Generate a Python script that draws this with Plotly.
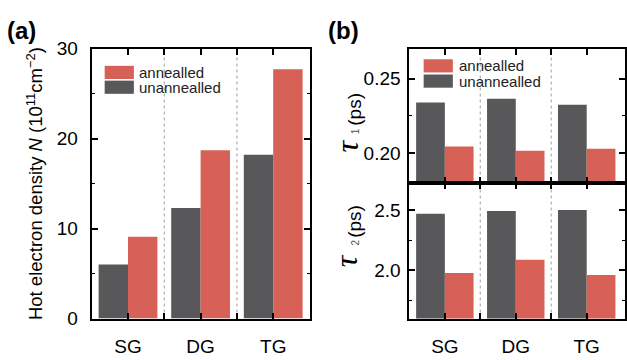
import plotly.graph_objects as go

# Sample groups and series
groups = ["SG", "DG", "TG"]
series_names = ["unannealled", "annealled"]

# Hot electron density N (10^11 cm^-2)
density_unannealed = [6.0, 12.3, 18.2]
density_annealed = [9.1, 18.7, 27.7]

# Relaxation times (ps)
tau1_unannealed = [0.234, 0.2365, 0.2325]
tau1_annealed = [0.2045, 0.2018, 0.2030]
tau2_unannealed = [2.467, 2.490, 2.498]
tau2_annealed = [1.977, 2.086, 1.961]

GREY = "#58585A"
RED = "#D76156"
FONT = "Liberation Sans, Arial, sans-serif"
SERIF = "Liberation Serif, Times New Roman, serif"
W, H = 627, 360

xpos = list(range(len(groups)))

fig = go.Figure()

def add_pair(xa, ya, unann, ann):
    fig.add_trace(go.Bar(x=xpos, y=unann, name=series_names[0], marker_color=GREY,
                         marker_line_width=0, xaxis=xa, yaxis=ya, showlegend=False))
    fig.add_trace(go.Bar(x=xpos, y=ann, name=series_names[1], marker_color=RED,
                         marker_line_width=0, xaxis=xa, yaxis=ya, showlegend=False))

add_pair("x", "y", density_unannealed, density_annealed)
add_pair("x2", "y2", tau1_unannealed, tau1_annealed)
add_pair("x3", "y3", tau2_unannealed, tau2_annealed)

# Pixel-based panel geometry converted to paper fractions
def px_x(v):
    return v / W

def px_y(v):
    return 1 - v / H

top, bottom, split = 41, 327.7, 184
a_dom = [px_x(92), px_x(310.5)]
b_dom = [px_x(410.7), 1.0]

axis_common = dict(
    showline=True, linecolor="black", linewidth=2, mirror="allticks",
    ticks="inside", tickcolor="black", tickwidth=1.5, ticklen=6,
    showgrid=False, zeroline=False,
    tickfont=dict(family=FONT, size=19, color="black"),
)

def xaxis_cfg(domain, rng, labels, anchor):
    cfg = dict(axis_common)
    cfg.update(domain=domain, range=rng, anchor=anchor,
               tickmode="array", tickvals=xpos,
               ticktext=groups if labels else ["", "", ""],
               showticklabels=labels, ticklabelstandoff=10,
               minor=dict(ticks="inside", tickmode="array", tickvals=[0.5, 1.5],
                          ticklen=6, tickwidth=1.5, tickcolor="black"))
    return cfg

def yaxis_cfg(domain, rng, dtick, minor_dtick, fmt, anchor, standoff, title=None):
    cfg = dict(axis_common)
    cfg.update(domain=domain, range=rng, anchor=anchor, dtick=dtick, tick0=0,
               tickformat=fmt, ticklabelstandoff=standoff,
               minor=dict(ticks="inside", dtick=minor_dtick, tick0=0, ticklen=3,
                          tickwidth=1.2, tickcolor="black"))
    if title:
        cfg["title"] = title
    return cfg

fig.update_layout(
    width=W, height=H,
    margin=dict(l=0, r=0, t=0, b=0),
    paper_bgcolor="white", plot_bgcolor="white",
    barmode="group", bargap=0.19, bargroupgap=0,
    font=dict(family=FONT, color="black"),
    xaxis=xaxis_cfg(a_dom, [-0.5, 2.5], True, "y"),
    yaxis=yaxis_cfg([px_y(bottom), px_y(top)], [0, 30], 10, 5, "d", "x", 8,
                    dict(text="Hot electron density <i>N</i> (10<sup>11</sup>cm<sup>−2</sup>)",
                         font=dict(family=FONT, size=18.5), standoff=9)),
    xaxis2=xaxis_cfg(b_dom, [-0.5, 2.54], False, "y2"),
    yaxis2=yaxis_cfg([px_y(split), px_y(top)], [0.18, 0.27], 0.05, 0.025, ".2f", "x2", 3),
    xaxis3=xaxis_cfg(b_dom, [-0.5, 2.54], True, "y3"),
    yaxis3=yaxis_cfg([px_y(bottom), px_y(split)], [1.6, 2.72], 0.5, 0.25, ".1f", "x3", 3),
)

# Dashed separators between sample groups
shapes = []
for b in [0.5, 1.5]:
    for xr in ["x", "x3"]:
        shapes.append(dict(type="line", xref=xr, yref="paper", x0=b, x1=b,
                           y0=px_y(bottom), y1=px_y(top), layer="below",
                           line=dict(color="#B4B4B4", width=1.3, dash="3px,3px")))

# Legend boxes (wide swatches) with labels
annotations = []
def legend_block(x0, y_red, y_grey, sw_w, sw_h, tx):
    for y, col, name in [(y_red, RED, series_names[1]), (y_grey, GREY, series_names[0])]:
        shapes.append(dict(type="rect", xref="paper", yref="paper",
                           x0=px_x(x0), x1=px_x(x0 + sw_w),
                           y0=px_y(y + sw_h), y1=px_y(y),
                           fillcolor=col, line=dict(width=0), layer="above"))
        annotations.append(dict(text=name, xref="paper", yref="paper",
                                x=px_x(tx), y=px_y(y + sw_h / 2), xanchor="left",
                                yanchor="middle", showarrow=False,
                                font=dict(family=FONT, size=15, color="#222")))

legend_block(105, 59.3, 75, 29.3, 14, 137)
legend_block(425, 52.3, 68.5, 29.3, 14, 458)

# Rotated tau axis labels for panel (b): large serif tau, small subscript, unit
def tau_label(idx, y_tau, y_sub, y_unit):
    common = dict(xref="paper", yref="paper", textangle=-90, showarrow=False,
                  xanchor="center", yanchor="middle")
    annotations.append(dict(text="<i>τ</i>", x=px_x(348), y=px_y(y_tau),
                            font=dict(family=SERIF, size=32, color="black"), **common))
    annotations.append(dict(text=idx, x=px_x(357), y=px_y(y_sub),
                            font=dict(family=FONT, size=10, color="#555"), **common))
    annotations.append(dict(text="(ps)", x=px_x(356), y=px_y(y_unit),
                            font=dict(family=FONT, size=19, color="black"), **common))

tau_label("1", 144, 129, 105)
tau_label("2", 266, 247, 224)

# Panel labels
for txt, cx in [("<b>(a)</b>", 22), ("<b>(b)</b>", 345)]:
    annotations.append(dict(text=txt, xref="paper", yref="paper", x=px_x(cx), y=px_y(22),
                            xanchor="center", yanchor="middle", showarrow=False,
                            font=dict(family=FONT, size=24, color="black")))

fig.update_layout(shapes=shapes, annotations=annotations)

fig.write_html("out.html")
